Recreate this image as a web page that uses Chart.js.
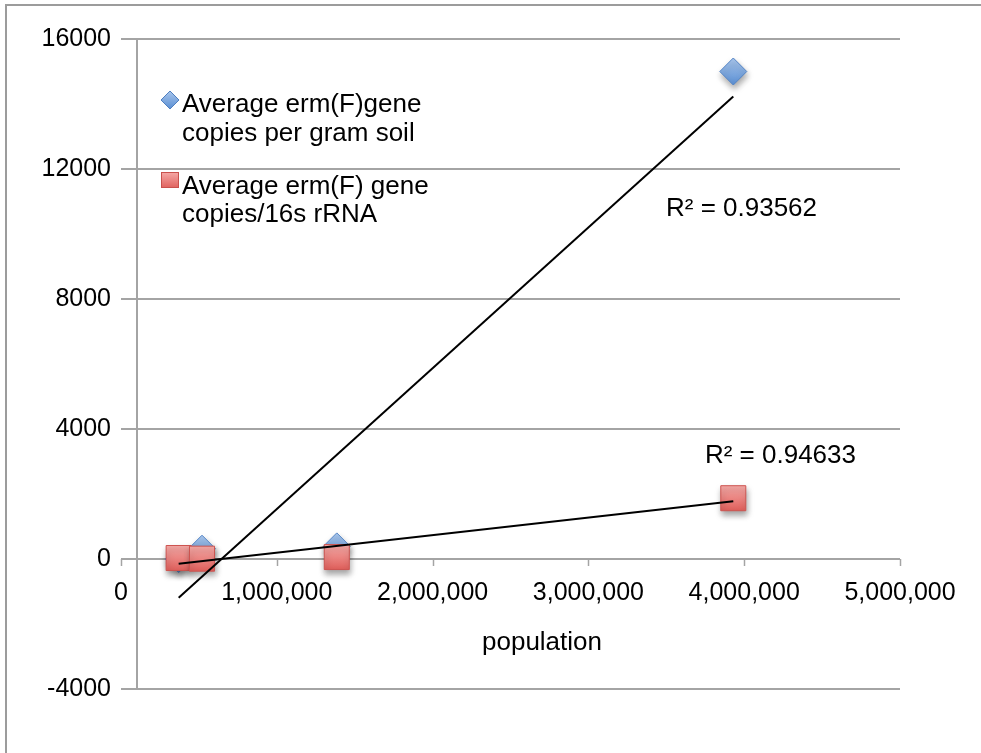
<!DOCTYPE html>
<html>
<head>
<meta charset="utf-8">
<script src="https://cdn.jsdelivr.net/npm/chart.js@4/dist/chart.umd.min.js"></script>
<style>
  html, body { margin: 0; padding: 0; background: #fff; }
  #wrap { position: relative; width: 981px; height: 753px; }
</style>
</head>
<body>
<div id="wrap"><canvas id="c"></canvas></div>
<script>
// Sampling sites: population vs. erm(F) abundance
const population = [370000, 520000, 1385000, 3930000];
const copiesPerGramSoil = [0, 317, 388, 15000];
const copiesPer16s = [30, 10, 60, 1870];

const seriesNames = [
  ["Average erm(F)gene", "copies per gram soil"],
  ["Average erm(F) gene", "copies/16s rRNA"]
];
const rSquaredLabels = ["R\u00B2 = 0.93562", "R\u00B2 = 0.94633"];
// label anchors in data units (left edge, baseline)
const rSquaredAnchors = [[3498000, 10557], [3748000, 2966]];

const xTicks = [0, 1000000, 2000000, 3000000, 4000000, 5000000];
const yMin = -4000, yMax = 16000, yStep = 4000;
const xAxisTitle = "population";
const yAxisCrossesAt = 100000;

const FONT = "'Liberation Sans', Arial, Helvetica, sans-serif";
const GRID = '#a4a4a4';

function points(xs, ys) { return xs.map((x, i) => ({ x: x, y: ys[i] })); }

// least-squares line over the observed x range
function linearFit(xs, ys) {
  const n = xs.length;
  const mx = xs.reduce((a, b) => a + b, 0) / n;
  const my = ys.reduce((a, b) => a + b, 0) / n;
  let sxy = 0, sxx = 0;
  for (let i = 0; i < n; i++) { sxy += (xs[i] - mx) * (ys[i] - my); sxx += (xs[i] - mx) ** 2; }
  const slope = sxy / sxx, icpt = my - slope * mx;
  const x0 = Math.min(...xs), x1 = Math.max(...xs);
  return [{ x: x0, y: icpt + slope * x0 }, { x: x1, y: icpt + slope * x1 }];
}

function verticalFill(top, bottom, r) {
  return ctx => {
    const ch = ctx.chart;
    if (ctx.type !== 'data' || !ch.scales || !ch.scales.y || !ctx.raw) return bottom;
    const py = ch.scales.y.getPixelForValue(ctx.raw.y);
    if (!isFinite(py)) return bottom;
    const g = ch.ctx.createLinearGradient(0, py - r, 0, py + r);
    g.addColorStop(0, top);
    g.addColorStop(1, bottom);
    return g;
  };
}

const fmt = v => v.toLocaleString('en-US');

const decorations = {
  id: 'decorations',
  beforeDraw(chart) {
    const c = chart.ctx;
    c.save();
    c.strokeStyle = '#9c9c9c';
    c.lineWidth = 2;
    c.beginPath();
    c.moveTo(6, 753);
    c.lineTo(6, 5);
    c.lineTo(981, 5);
    c.stroke();
    c.restore();
  },
  beforeDatasetsDraw(chart) {
    const c = chart.ctx, xs = chart.scales.x, ys = chart.scales.y, a = chart.chartArea;
    c.save();
    c.strokeStyle = GRID;
    c.lineWidth = 2;
    // vertical axis line
    const ax = Math.round(xs.getPixelForValue(yAxisCrossesAt));
    c.beginPath();
    c.moveTo(ax, a.top);
    c.lineTo(ax, a.bottom);
    c.stroke();
    // horizontal axis tick marks at y = 0
    const y0 = ys.getPixelForValue(0);
    c.lineWidth = 1.5;
    xTicks.forEach(v => {
      const px = Math.round(xs.getPixelForValue(v)) + 0.5;
      c.beginPath();
      c.moveTo(px, y0);
      c.lineTo(px, y0 + 7);
      c.stroke();
    });
    // tick labels and title
    c.fillStyle = '#000';
    c.font = '25px ' + FONT;
    c.textAlign = 'center';
    c.textBaseline = 'alphabetic';
    xTicks.forEach(v => c.fillText(fmt(v), xs.getPixelForValue(v), y0 + 41));
    c.font = '26px ' + FONT;
    c.fillText(xAxisTitle, 542, 650);
    c.restore();
  },
  afterDatasetsDraw(chart) {
    const c = chart.ctx, xs = chart.scales.x, ys = chart.scales.y;
    c.save();
    c.fillStyle = '#000';
    c.font = '26px ' + FONT;
    c.textAlign = 'left';
    c.textBaseline = 'alphabetic';
    rSquaredLabels.forEach((t, i) => {
      c.fillText(t, xs.getPixelForValue(rSquaredAnchors[i][0]), ys.getPixelForValue(rSquaredAnchors[i][1]));
    });
    // legend
    const lx = 170;
    // diamond
    let g = c.createLinearGradient(0, 91, 0, 109);
    g.addColorStop(0, '#a9c6ec'); g.addColorStop(1, '#5a8fd3');
    c.fillStyle = g; c.strokeStyle = '#4f7fc0'; c.lineWidth = 1;
    c.beginPath();
    c.moveTo(lx, 91); c.lineTo(lx + 9, 100); c.lineTo(lx, 109); c.lineTo(lx - 9, 100); c.closePath();
    c.fill(); c.stroke();
    // square
    g = c.createLinearGradient(0, 172, 0, 188);
    g.addColorStop(0, '#f6aaa7'); g.addColorStop(1, '#e0625e');
    c.fillStyle = g; c.strokeStyle = '#c9514d';
    c.fillRect(lx - 9, 172, 18, 16); c.strokeRect(lx - 9 + 0.5, 172.5, 17, 15);
    c.fillStyle = '#000';
    const baselines = [[112, 141], [194, 222]];
    seriesNames.forEach((lines, i) => lines.forEach((t, j) => c.fillText(t, 182, baselines[i][j])));
    c.restore();
  }
};

const markerShadow = {
  id: 'markerShadow',
  beforeDatasetDraw(chart, args) {
    if (!chart.data.datasets[args.index].shadow) return;
    const c = chart.ctx;
    c.save();
    c.shadowColor = 'rgba(0,0,0,0.35)';
    c.shadowBlur = 6;
    c.shadowOffsetX = 1;
    c.shadowOffsetY = 4;
  },
  afterDatasetDraw(chart, args) {
    if (!chart.data.datasets[args.index].shadow) return;
    chart.ctx.restore();
  }
};

new Chart(document.getElementById('c'), {
  type: 'scatter',
  data: {
    datasets: [
      {
        label: seriesNames[0].join(' '),
        data: points(population, copiesPerGramSoil),
        pointStyle: 'rectRot',
        pointRadius: 13.5,
        backgroundColor: verticalFill('#a9c6ec', '#5a8fd3', 13.5),
        borderColor: '#5485c6',
        borderWidth: 1,
        shadow: true,
        order: 2,
        clip: false
      },
      {
        label: seriesNames[1].join(' '),
        data: points(population, copiesPer16s),
        pointStyle: 'rect',
        pointRadius: 17.7,
        backgroundColor: verticalFill('#f6aaa7', '#df5f5b', 12.5),
        borderColor: '#cd5450',
        borderWidth: 1,
        shadow: true,
        order: 1,
        clip: false
      },
      {
        label: 'trend 1',
        data: linearFit(population, copiesPerGramSoil),
        showLine: true,
        borderColor: '#000',
        borderWidth: 2,
        pointRadius: 0,
        order: 0,
        clip: false
      },
      {
        label: 'trend 2',
        data: linearFit(population, copiesPer16s),
        showLine: true,
        borderColor: '#000',
        borderWidth: 2,
        pointRadius: 0,
        order: 0,
        clip: false
      }
    ]
  },
  options: {
    responsive: true,
    maintainAspectRatio: false,
    animation: false,
    events: [],
    layout: { padding: { left: 0, top: 39, right: 81, bottom: 64 } },
    plugins: { legend: { display: false }, tooltip: { enabled: false } },
    scales: {
      x: { type: 'linear', min: 0, max: 5000000, display: false },
      y: {
        type: 'linear',
        min: yMin, max: yMax,
        ticks: {
          stepSize: yStep, color: '#000', font: { family: FONT, size: 25 }, padding: 10,
          callback: v => String(v)
        },
        grid: { color: GRID, lineWidth: 2, drawTicks: false },
        border: { display: false },
        afterFit(scale) { scale.width = 121; }
      }
    }
  },
  plugins: [decorations, markerShadow]
});
</script>
</body>
</html>
